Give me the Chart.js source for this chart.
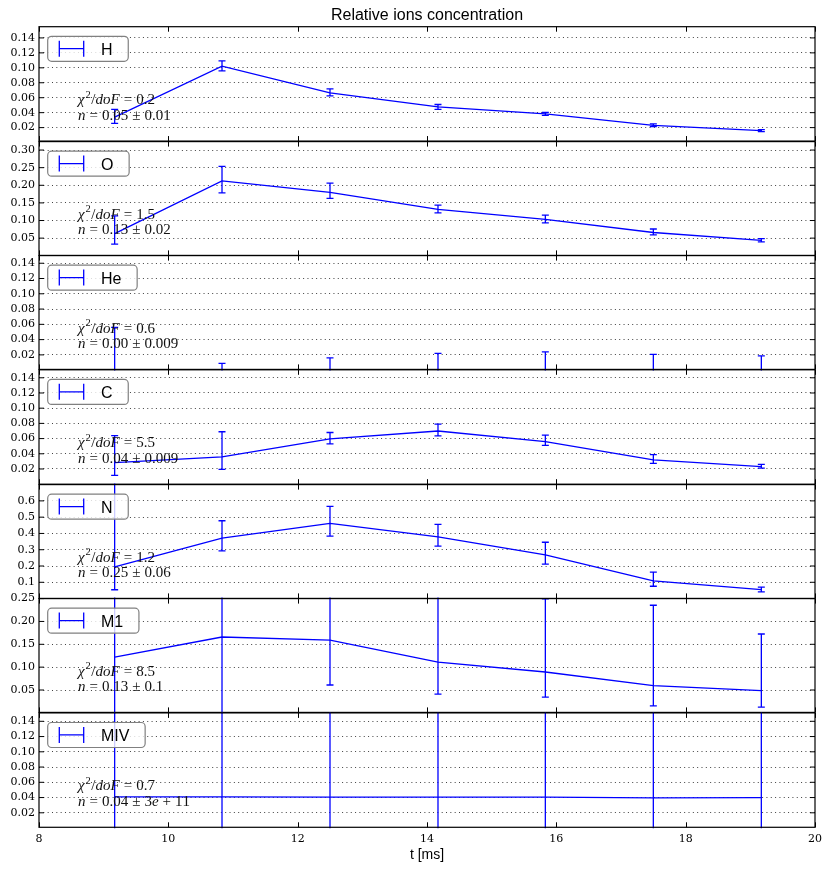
<!DOCTYPE html>
<html>
<head>
<meta charset="utf-8">
<script src="https://cdn.jsdelivr.net/npm/chart.js@4.4.0/dist/chart.umd.min.js"></script>
<style>
  html, body { margin: 0; padding: 0; background: #fff; }
  #wrap { position: relative; width: 832px; height: 872px; overflow: hidden; background: #fff; }
  #wrap canvas { position: absolute; left: 0; }
</style>
</head>
<body>
<div id="wrap"></div>
<script>
// sample times [ms]
const times = [9.17, 10.83, 12.5, 14.17, 15.83, 17.5, 19.17];
const species = ['H', 'O', 'He', 'C', 'N', 'M1', 'MIV'];

// relative concentration + lower / upper errors, one set per ion
const hVals  = [0.034, 0.1023, 0.0664, 0.0477, 0.0383, 0.0231, 0.016];
const hErrLo = [0.0084, 0.0063, 0.004, 0.0033, 0.002, 0.0018, 0.0014];
const hErrHi = [0.0104, 0.007, 0.0054, 0.0032, 0.002, 0.0018, 0.0014];

const oVals  = [0.063, 0.2125, 0.180, 0.1317, 0.1035, 0.066, 0.0435];
const oErrLo = [0.030, 0.034, 0.017, 0.010, 0.010, 0.007, 0.004];
const oErrHi = [0.050, 0.041, 0.026, 0.012, 0.012, 0.010, 0.005];

const heVals  = [0, 0, 0, 0, 0, 0, 0];
const heErrLo = [0.056, 0.009, 0.016, 0.022, 0.024, 0.0208, 0.0187];
const heErrHi = [0.056, 0.009, 0.016, 0.022, 0.024, 0.0208, 0.0187];

const cVals  = [0.0283, 0.036, 0.0596, 0.070, 0.056, 0.032, 0.023];
const cErrLo = [0.0166, 0.0164, 0.0066, 0.0065, 0.005, 0.0045, 0.002];
const cErrHi = [0.0357, 0.033, 0.0084, 0.009, 0.0085, 0.007, 0.003];

const nVals  = [0.194, 0.371, 0.462, 0.379, 0.269, 0.1085, 0.055];
const nErrLo = [0.14, 0.078, 0.079, 0.057, 0.057, 0.033, 0.0135];
const nErrHi = [0.60, 0.107, 0.104, 0.077, 0.077, 0.0545, 0.015];

const m1Vals  = [0.122, 0.166, 0.159, 0.111, 0.0894, 0.0594, 0.0485];
const m1ErrLo = [0.3, 0.3, 0.098, 0.070, 0.055, 0.044, 0.036];
const m1ErrHi = [0.3, 0.3, 0.20, 0.16, 0.16, 0.176, 0.124];

const mivVals  = [0.041, 0.041, 0.0405, 0.0405, 0.0405, 0.0395, 0.040];
const mivErrLo = [3e11, 3e11, 3e11, 3e11, 3e11, 3e11, 3e11];
const mivErrHi = [3e11, 3e11, 3e11, 3e11, 3e11, 3e11, 3e11];

const chi2Labels = ['0.2', '1.5', '0.6', '5.5', '1.2', '8.5', '0.7'];
const nFitLabels = ['0.05±0.01', '0.13±0.02', '0.00±0.009', '0.04±0.009', '0.25±0.06', '0.13±0.1', '0.04±3e+11'];

// axes
const xTicks = [8, 10, 12, 14, 16, 18, 20];
const yMins = [0.002, 0.001, 0.001, 0.0, 0.001, 0.001, 0.001];
const yMaxs = [0.155, 0.324, 0.150, 0.1505, 0.70, 0.25, 0.151];
const smallTicks = [0.02, 0.04, 0.06, 0.08, 0.10, 0.12, 0.14];
const yTicks = [
  smallTicks,
  [0.05, 0.10, 0.15, 0.20, 0.25, 0.30],
  smallTicks,
  smallTicks,
  [0.1, 0.2, 0.3, 0.4, 0.5, 0.6],
  [0.05, 0.10, 0.15, 0.20, 0.25],
  smallTicks
];
const yDecimals = [2, 2, 2, 2, 1, 2, 2];

const allVals = [hVals, oVals, heVals, cVals, nVals, m1Vals, mivVals];
const allLo = [hErrLo, oErrLo, heErrLo, cErrLo, nErrLo, m1ErrLo, mivErrLo];
const allHi = [hErrHi, oErrHi, heErrHi, cErrHi, nErrHi, m1ErrHi, mivErrHi];

const BLUE = '#0000ff';
const PLOT_TOP = 26.7, PANEL_H = 114.37, PLOT_LEFT = 39, PLOT_RIGHT = 815, W = 832, H = 872;
const SERIF = '"Liberation Serif", "DejaVu Serif", serif';

function drawMath(ctx, str, x, y) {
  let cx = x;
  for (const ch of str) {
    if (ch === '²') {
      ctx.font = '10.5px ' + SERIF;
      ctx.fillText('2', cx + 0.8, y - 6.5);
      cx += ctx.measureText('2').width + 1.5;
      continue;
    }
    if ('=±+'.includes(ch)) {
      ctx.font = '15px ' + SERIF;
      cx += 4;
      ctx.fillText(ch, cx, y);
      cx += ctx.measureText(ch).width + 4;
      continue;
    }
    const italic = /[a-zA-Zχ]/.test(ch);
    ctx.font = (italic ? 'italic ' : '') + '15px ' + SERIF;
    ctx.fillText(ch, cx, y);
    cx += ctx.measureText(ch).width;
  }
}

function makeErrorBars(vals, lo, hi) {
  return {
    id: 'errorBars',
    afterDatasetsDraw(chart) {
      const { ctx, chartArea: a, scales: { x, y } } = chart;
      const span = y.max - y.min;
      ctx.save();
      ctx.beginPath();
      ctx.rect(a.left, a.top - 1, a.right - a.left, a.bottom - a.top + 2);
      ctx.clip();
      ctx.strokeStyle = BLUE;
      ctx.lineWidth = 1.3;
      vals.forEach((v, i) => {
        const px = x.getPixelForValue(times[i]);
        const vLo = v - lo[i], vHi = v + hi[i];
        const cLo = Math.max(vLo, y.min - span), cHi = Math.min(vHi, y.max + span);
        const pLo = y.getPixelForValue(cLo), pHi = y.getPixelForValue(cHi);
        ctx.beginPath();
        ctx.moveTo(px, pLo);
        ctx.lineTo(px, pHi);
        if (cLo === vLo) { ctx.moveTo(px - 3.5, pLo); ctx.lineTo(px + 3.5, pLo); }
        if (cHi === vHi) { ctx.moveTo(px - 3.5, pHi); ctx.lineTo(px + 3.5, pHi); }
        ctx.stroke();
      });
      ctx.restore();
    }
  };
}

function makeDecor(idx) {
  return {
    id: 'decor',
    afterDraw(chart) {
      const { ctx, chartArea: a, scales: { x, y } } = chart;
      ctx.save();
      // frame + inward ticks
      ctx.strokeStyle = '#000';
      ctx.lineWidth = 1.2;
      ctx.strokeRect(a.left, a.top, a.right - a.left, a.bottom - a.top);
      ctx.lineWidth = 1;
      ctx.beginPath();
      xTicks.forEach(t => {
        const px = Math.round(x.getPixelForValue(t)) + 0.5;
        ctx.moveTo(px, a.top); ctx.lineTo(px, a.top + 5);
        ctx.moveTo(px, a.bottom); ctx.lineTo(px, a.bottom - 5);
      });
      yTicks[idx].forEach(t => {
        const py = y.getPixelForValue(t);
        ctx.moveTo(a.left, py); ctx.lineTo(a.left + 5, py);
        ctx.moveTo(a.right, py); ctx.lineTo(a.right - 5, py);
      });
      ctx.stroke();

      // fit annotation
      ctx.fillStyle = '#111';
      ctx.textBaseline = 'alphabetic';
      ctx.textAlign = 'left';
      drawMath(ctx, 'χ²/doF=' + chi2Labels[idx], a.left + 39, a.top + 77.3);
      drawMath(ctx, 'n=' + nFitLabels[idx], a.left + 39, a.top + 92.8);

      // legend box
      const label = chart.data.datasets[0].label;
      ctx.font = '16px "Liberation Sans", Arial, sans-serif';
      const tw = ctx.measureText(label).width;
      const bx = a.left + 8.7, by = a.top + 9.6, bw = 62 + tw + 7, bh = 25;
      ctx.beginPath();
      ctx.roundRect(bx, by, bw, bh, 4);
      ctx.fillStyle = 'rgba(255,255,255,0.8)';
      ctx.fill();
      ctx.strokeStyle = '#808080';
      ctx.lineWidth = 1.2;
      ctx.stroke();
      const cy = by + 12.4;
      const sx0 = bx + 11.6, sx1 = bx + 36;
      ctx.strokeStyle = BLUE;
      ctx.lineWidth = 1.3;
      ctx.beginPath();
      ctx.moveTo(sx0, cy); ctx.lineTo(sx1, cy);
      ctx.moveTo(sx0, cy - 8); ctx.lineTo(sx0, cy + 8);
      ctx.moveTo(sx1, cy - 8); ctx.lineTo(sx1, cy + 8);
      ctx.stroke();
      ctx.fillStyle = '#000';
      ctx.fillText(label, bx + 53.3, cy + 6);
      ctx.restore();
    }
  };
}

const wrap = document.getElementById('wrap');

species.forEach((name, i) => {
  const top = PLOT_TOP + i * PANEL_H;
  const bottom = top + PANEL_H;
  const first = i === 0, last = i === species.length - 1;
  const canvasTop = first ? 0 : Math.floor(top) - 10;
  const canvasBottom = last ? H : Math.ceil(bottom) + 10;
  const canvas = document.createElement('canvas');
  canvas.width = W;
  canvas.height = canvasBottom - canvasTop;
  canvas.style.top = canvasTop + 'px';
  wrap.appendChild(canvas);

  const vals = allVals[i];
  const points = times.map((t, k) => ({ x: t, y: vals[k] }));

  new Chart(canvas, {
    type: 'line',
    data: {
      datasets: [{
        label: name,
        data: points,
        borderColor: BLUE,
        borderWidth: 1.3,
        pointRadius: 0,
        fill: false,
        tension: 0
      }]
    },
    options: {
      responsive: false,
      animation: false,
      devicePixelRatio: 1,
      layout: {
        padding: {
          left: 0,
          right: W - PLOT_RIGHT,
          top: first ? 0 : top - canvasTop,
          bottom: last ? 0 : canvasBottom - bottom
        }
      },
      plugins: {
        legend: { display: false },
        tooltip: { enabled: false },
        title: {
          display: first,
          text: 'Relative ions concentration',
          fullSize: false,
          color: '#000',
          font: { family: '"Liberation Sans", Arial, sans-serif', size: 16, weight: 'normal' },
          padding: { top: 6.4, bottom: PLOT_TOP - 6.4 - 19.2 }
        }
      },
      scales: {
        x: {
          type: 'linear',
          min: 8,
          max: 20,
          display: last,
          afterBuildTicks: s => { s.ticks = xTicks.map(v => ({ value: v })); },
          afterFit: s => { if (last) s.height = H - bottom; },
          grid: { display: false, drawTicks: false },
          border: { display: false },
          ticks: {
            autoSkip: false,
            maxRotation: 0,
            padding: 5,
            color: '#000',
            font: { family: '"DejaVu Serif", serif', size: 11 }
          },
          title: {
            display: last,
            text: 't [ms]',
            color: '#000',
            font: { family: '"Liberation Sans", Arial, sans-serif', size: 14 },
            padding: { top: 0, bottom: 8.6 }
          }
        },
        y: {
          min: yMins[i],
          max: yMaxs[i],
          afterBuildTicks: s => { s.ticks = yTicks[i].map(v => ({ value: v })); },
          afterFit: s => { s.width = PLOT_LEFT; },
          grid: { color: 'rgba(0,0,0,0.75)', lineWidth: 1, drawTicks: false },
          border: { display: false, dash: [1, 3.33] },
          ticks: {
            autoSkip: false,
            padding: 4,
            color: '#000',
            font: { family: '"DejaVu Serif", serif', size: 11 },
            callback: v => v.toFixed(yDecimals[i])
          }
        }
      }
    },
    plugins: [makeErrorBars(vals, allLo[i], allHi[i]), makeDecor(i)]
  });
});
</script>
</body>
</html>
